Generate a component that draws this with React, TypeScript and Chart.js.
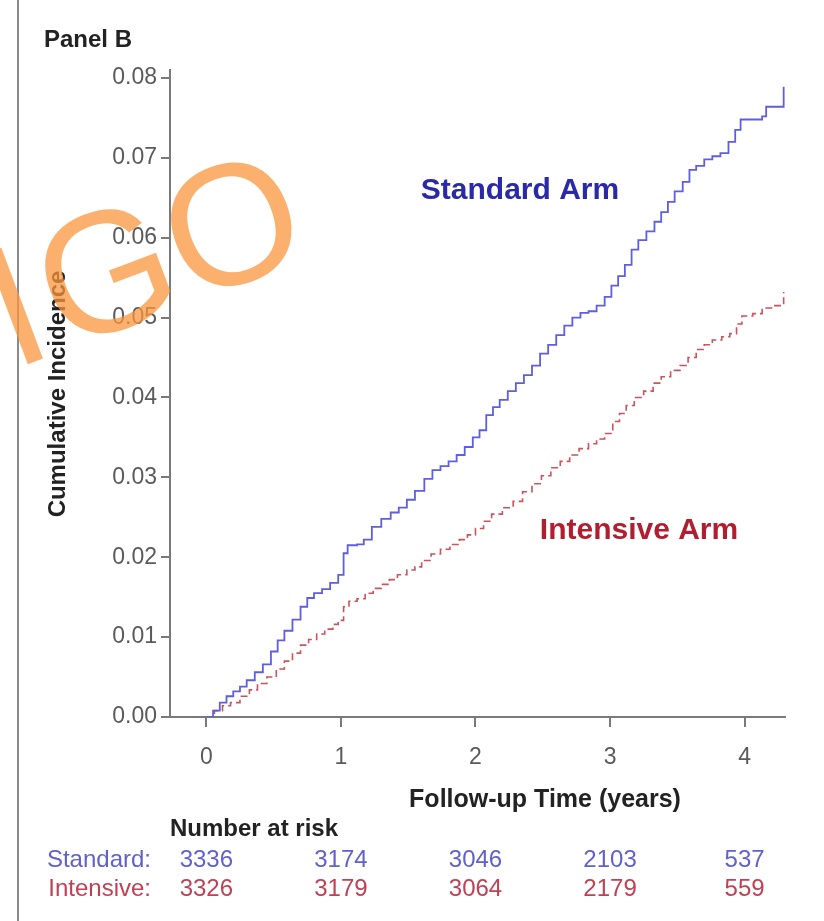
import { useEffect, useRef } from "react";
import { Chart, registerables } from "chart.js";

Chart.register(...registerables);

// Kaplan-Meier style cumulative incidence, standard arm (years, incidence)
const STANDARD_TIME = [
  0, 0.05, 0.1, 0.15, 0.2, 0.25, 0.3, 0.36, 0.42, 0.48, 0.53, 0.58, 0.64, 0.7,
  0.75, 0.8, 0.86, 0.92, 0.98, 1.02, 1.05, 1.12, 1.17, 1.23, 1.3, 1.37, 1.43,
  1.49, 1.55, 1.62, 1.68, 1.74, 1.8, 1.86, 1.92, 1.98, 2.03, 2.08, 2.13, 2.18,
  2.24, 2.3, 2.36, 2.42, 2.48, 2.54, 2.6, 2.66, 2.72, 2.78, 2.84, 2.9, 2.96,
  3.01, 3.06, 3.11, 3.16, 3.21, 3.27, 3.33, 3.38, 3.43, 3.48, 3.54, 3.59, 3.64,
  3.7, 3.76, 3.82, 3.88, 3.93, 3.97, 4.05, 4.13, 4.16, 4.29, 4.29,
];
const STANDARD_CI = [
  0, 0.0008, 0.0018, 0.0026, 0.0032, 0.0038, 0.0046, 0.0056, 0.0066, 0.0082,
  0.0096, 0.0108, 0.0122, 0.0138, 0.0149, 0.0155, 0.016, 0.0168, 0.0178, 0.0205,
  0.0215, 0.0216, 0.0222, 0.0238, 0.0248, 0.0256, 0.0262, 0.0272, 0.0283,
  0.0298, 0.0309, 0.0314, 0.032, 0.0328, 0.0338, 0.035, 0.0359, 0.0378, 0.0388,
  0.0397, 0.0408, 0.0418, 0.0428, 0.044, 0.0455, 0.0466, 0.0478, 0.049, 0.05,
  0.0506, 0.0508, 0.0515, 0.0526, 0.054, 0.0552, 0.0566, 0.0585, 0.0597,
  0.0608, 0.062, 0.0632, 0.0645, 0.0658, 0.067, 0.0685, 0.069, 0.0698, 0.0702,
  0.0706, 0.072, 0.0735, 0.0748, 0.0748, 0.0752, 0.0764, 0.0766, 0.0789,
];

// Cumulative incidence, intensive arm
const INTENSIVE_TIME = [
  0, 0.06, 0.12, 0.18, 0.25, 0.32, 0.38, 0.45, 0.52, 0.58, 0.64, 0.7, 0.76,
  0.82, 0.88, 0.94, 0.98, 1.02, 1.06, 1.12, 1.18, 1.24, 1.3, 1.36, 1.42, 1.49,
  1.55, 1.6, 1.67, 1.74, 1.81, 1.88, 1.94, 2.0, 2.06, 2.12, 2.2, 2.28, 2.35,
  2.42, 2.49, 2.56, 2.63, 2.7, 2.77, 2.84, 2.9, 2.96, 3.02, 3.07, 3.12, 3.18,
  3.25, 3.32, 3.38, 3.45, 3.52, 3.58, 3.64, 3.7, 3.76, 3.83, 3.89, 3.94, 3.98,
  4.06, 4.13, 4.2, 4.29, 4.29,
];
const INTENSIVE_CI = [
  0, 0.0008, 0.0014, 0.0018, 0.0026, 0.0034, 0.0042, 0.005, 0.006, 0.007,
  0.008, 0.009, 0.0097, 0.0104, 0.011, 0.0116, 0.0121, 0.0138, 0.0145, 0.0148,
  0.0155, 0.0161, 0.0166, 0.0172, 0.0178, 0.0184, 0.0188, 0.0196, 0.0204,
  0.021, 0.0216, 0.0222, 0.0228, 0.0236, 0.0245, 0.0254, 0.0262, 0.027, 0.0282,
  0.0292, 0.0302, 0.0312, 0.032, 0.0328, 0.0336, 0.0342, 0.0348, 0.0355, 0.037,
  0.038, 0.039, 0.04, 0.0408, 0.0418, 0.0426, 0.0434, 0.044, 0.045, 0.046,
  0.0466, 0.0472, 0.0476, 0.048, 0.0492, 0.0502, 0.0505, 0.0512, 0.0515,
  0.0518, 0.0532,
];

const X_TICKS = [0, 1, 2, 3, 4];
const Y_TICKS = [0, 0.01, 0.02, 0.03, 0.04, 0.05, 0.06, 0.07, 0.08];

// Number-at-risk table
const RISK_TIMES = [0, 1, 2, 3, 4];
const STANDARD_AT_RISK = [3336, 3174, 3046, 2103, 537];
const INTENSIVE_AT_RISK = [3326, 3179, 3064, 2179, 559];

const FONT = '"Liberation Sans", Arial, sans-serif';
const BLUE_LINE = "rgb(94, 94, 226)";
const RED_LINE = "rgb(204, 82, 92)";

const toPoints = (xs: number[], ys: number[]) => xs.map((x, i) => ({ x, y: ys[i] }));

const annotations = {
  id: "annotations",
  afterDraw(chart: any) {
    const ctx = chart.ctx;
    const xs = chart.scales.x;
    ctx.save();

    // page rule on the left
    ctx.strokeStyle = "#8a8a8a";
    ctx.lineWidth = 2;
    ctx.beginPath();
    ctx.moveTo(18, 0);
    ctx.lineTo(18, 921);
    ctx.stroke();

    ctx.textBaseline = "middle";

    ctx.fillStyle = "#222";
    ctx.font = `bold 24px ${FONT}`;
    ctx.textAlign = "left";
    ctx.fillText("Panel B", 44, 40);

    // y-axis title
    ctx.save();
    ctx.translate(58, 394);
    ctx.rotate(-Math.PI / 2);
    ctx.textAlign = "center";
    ctx.font = `bold 24px ${FONT}`;
    ctx.fillText("Cumulative Incidence", 0, 0);
    ctx.restore();

    ctx.textAlign = "center";
    ctx.font = `bold 25px ${FONT}`;
    ctx.fillText("Follow-up Time (years)", 545, 800);

    // curve labels
    ctx.font = `bold 30px ${FONT}`;
    ctx.fillStyle = "rgb(42, 42, 168)";
    ctx.fillText("Standard Arm", 520, 191);
    ctx.fillStyle = "rgb(176, 30, 48)";
    ctx.fillText("Intensive Arm", 639, 531);

    // number at risk
    ctx.fillStyle = "#222";
    ctx.textAlign = "left";
    ctx.font = `bold 24px ${FONT}`;
    ctx.fillText("Number at risk", 170, 829);

    ctx.font = `24px ${FONT}`;
    ctx.textAlign = "right";
    ctx.fillStyle = "rgb(96, 96, 206)";
    ctx.fillText("Standard:", 151, 860);
    ctx.fillStyle = "rgb(192, 64, 84)";
    ctx.fillText("Intensive:", 151, 889);
    ctx.textAlign = "center";
    RISK_TIMES.forEach((t, i) => {
      const px = xs.getPixelForValue(t);
      ctx.fillStyle = "rgb(96, 96, 206)";
      ctx.fillText(String(STANDARD_AT_RISK[i]), px, 860);
      ctx.fillStyle = "rgb(192, 64, 84)";
      ctx.fillText(String(INTENSIVE_AT_RISK[i]), px, 889);
    });

    // watermark
    ctx.save();
    ctx.translate(108, 279);
    ctx.rotate((-20.6 * Math.PI) / 180);
    ctx.fillStyle = "rgba(251, 150, 60, 0.75)";
    ctx.font = `172px ${FONT}`;
    ctx.textAlign = "center";
    ctx.textBaseline = "middle";
    ctx.fillText("I", -97, 4);
    ctx.fillText("G", 0, 4);
    ctx.fillText("O", 135, 4);
    ctx.restore();

    ctx.restore();
  },
};

export default function App() {
  const canvasRef = useRef<HTMLCanvasElement | null>(null);

  useEffect(() => {
    const canvas = canvasRef.current;
    if (!canvas) return;
    const chart = new Chart(canvas, {
      type: "line",
      data: {
        datasets: [
          {
            label: "Standard Arm",
            data: toPoints(STANDARD_TIME, STANDARD_CI),
            borderColor: BLUE_LINE,
            borderWidth: 1.8,
            stepped: true,
            pointRadius: 0,
            fill: false,
          },
          {
            label: "Intensive Arm",
            data: toPoints(INTENSIVE_TIME, INTENSIVE_CI),
            borderColor: RED_LINE,
            borderWidth: 1.6,
            borderDash: [7, 4],
            stepped: true,
            pointRadius: 0,
            fill: false,
          },
        ],
      },
      options: {
        responsive: false,
        animation: false,
        events: [],
        layout: { padding: { left: 50, top: 70, right: 39, bottom: 104 } },
        plugins: {
          legend: { display: false },
          tooltip: { enabled: false },
        },
        scales: {
          x: {
            type: "linear",
            min: -0.27,
            max: 4.3,
            afterBuildTicks: (s: any) => {
              s.ticks = X_TICKS.map((v) => ({ value: v }));
            },
            afterFit: (s: any) => {
              s.height = 100;
            },
            grid: {
              drawOnChartArea: false,
              drawTicks: true,
              tickLength: 10,
              color: "#7a7a7a",
              lineWidth: 2,
            },
            border: { display: true, color: "#7a7a7a", width: 2 },
            ticks: {
              autoSkip: false,
              maxRotation: 0,
              padding: 17,
              color: "#5a5a5a",
              font: { family: FONT, size: 23 },
              callback: (v: any) => String(v),
            },
          },
          y: {
            type: "linear",
            min: 0,
            max: 0.081,
            afterBuildTicks: (s: any) => {
              s.ticks = Y_TICKS.map((v) => ({ value: v }));
            },
            afterFit: (s: any) => {
              s.width = 120;
            },
            grid: {
              drawOnChartArea: false,
              drawTicks: true,
              tickLength: 9,
              color: "#7a7a7a",
              lineWidth: 2,
            },
            border: { display: true, color: "#7a7a7a", width: 2 },
            ticks: {
              autoSkip: false,
              padding: 4,
              color: "#5a5a5a",
              font: { family: FONT, size: 23 },
              callback: (v: any) => Number(v).toFixed(2),
            },
          },
        },
      },
      plugins: [annotations],
    });
    return () => chart.destroy();
  }, []);

  return (
    <div
      style={{
        position: "absolute",
        left: 0,
        top: 0,
        width: 824,
        height: 921,
        background: "#fff",
      }}
    >
      <canvas ref={canvasRef} width={824} height={921} style={{ display: "block" }} />
    </div>
  );
}
